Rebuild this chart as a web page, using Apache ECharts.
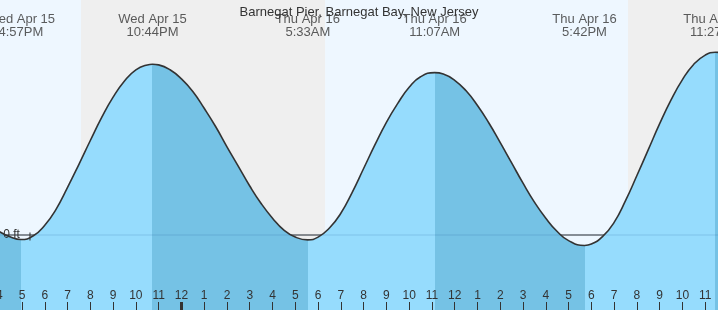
<!DOCTYPE html>
<html><head><meta charset="utf-8">
<script src="https://cdn.jsdelivr.net/npm/echarts@6/dist/echarts.min.js"></script>
<style>html,body{margin:0;padding:0;background:#fff}#c{width:718px;height:310px}</style>
</head><body><div id="c"></div>
<script>
// ---- data (hours counted from Wed Apr 15 00:00) ----
const chartTitle = 'Barnegat Pier, Barnegat Bay, New Jersey';
const tideHours = [16.0, 16.5, 16.95, 17.5, 18.0, 18.5, 19.0, 19.5, 20.0, 20.5, 21.0, 21.5, 22.0, 22.5, 22.73, 23.0, 23.5, 24.0, 24.5, 25.0, 25.5, 26.0, 26.5, 27.0, 27.5, 28.0, 28.5, 29.0, 29.55, 30.0, 30.5, 31.0, 31.5, 32.0, 32.5, 33.0, 33.5, 34.0, 34.5, 35.12, 35.5, 36.0, 36.5, 37.0, 37.5, 38.0, 38.5, 39.0, 39.5, 40.0, 40.5, 41.0, 41.7, 42.0, 42.5, 43.0, 43.5, 44.0, 44.5, 45.0, 45.5, 46.0, 46.5, 47.0, 47.45, 48.0];
const tideFt    = [0.05, -0.03, -0.065, -0.01, 0.14, 0.37, 0.68, 1.01, 1.35, 1.68, 1.97, 2.20, 2.36, 2.43, 2.44, 2.43, 2.36, 2.23, 2.05, 1.81, 1.55, 1.26, 0.98, 0.70, 0.45, 0.24, 0.07, -0.03, -0.07, -0.03, 0.10, 0.31, 0.61, 0.95, 1.29, 1.61, 1.88, 2.11, 2.26, 2.32, 2.30, 2.21, 2.06, 1.85, 1.60, 1.32, 1.03, 0.74, 0.47, 0.24, 0.05, -0.08, -0.15, -0.13, -0.02, 0.18, 0.49, 0.85, 1.22, 1.59, 1.93, 2.22, 2.44, 2.57, 2.61, 2.58];
const extremeHours  = [16.95, 22.73, 29.55, 35.12, 41.7, 47.45];
const extremeTypes  = ['low', 'high', 'low', 'high', 'low', 'high'];
const extremeLabels = ['Wed Apr 15\n4:57PM', 'Wed Apr 15\n10:44PM', 'Thu Apr 16\n5:33AM', 'Thu Apr 16\n11:07AM', 'Thu Apr 16\n5:42PM', 'Thu Apr 16\n11:27PM'];
const sunHours = [19.59, 30.31, 43.61];   // sunset, sunrise, sunset
const nowHour = 17.35;
const zeroLabel = '0 ft';
const hourTickLabels = ['12','1','2','3','4','5','6','7','8','9','10','11'];

// ---- styling ----
const X_MIN = 16, X_MAX = 48;
const Y_MIN = -75 / 70, Y_MAX = 235 / 70;
const DAY = '#eef7ff', NIGHT = '#efefef';
const RISE = '#96dcfd', FALL = '#75c2e5';
const TXT = '#333';
const FONT = 'Liberation Sans, Arial, sans-serif';

const tideData = tideHours.map((h, i) => [h, tideFt[i]]);

const pieces = [{ lt: extremeHours[0], color: extremeTypes[0] === 'low' ? FALL : RISE }];
extremeHours.forEach((h, i) => {
  const p = { gte: h, color: extremeTypes[i] === 'low' ? RISE : FALL };
  if (i + 1 < extremeHours.length) p.lt = extremeHours[i + 1];
  pieces.push(p);
});

const bounds = [X_MIN, ...sunHours, X_MAX];
const bands = [];
for (let i = 0; i < bounds.length - 1; i++) {
  bands.push([{ xAxis: bounds[i], itemStyle: { color: i % 2 === 0 ? DAY : NIGHT } }, { xAxis: bounds[i + 1] }]);
}

const chart = echarts.init(document.getElementById('c'));
chart.setOption({
  animation: false,
  textStyle: { fontFamily: FONT },
  title: {
    text: chartTitle, left: 'center', top: 1, z: 20,
    textStyle: { fontSize: 13, fontWeight: 'normal', color: TXT, fontFamily: FONT }
  },
  grid: { left: -0.77, right: -10, top: 0, bottom: 0, containLabel: false, outerBoundsMode: 'none' },
  xAxis: [{
    type: 'value', min: X_MIN, max: X_MAX, interval: 1, z: 20, position: 'bottom',
    axisLine: { show: false, onZero: false },
    splitLine: { show: false },
    axisTick: { inside: true, length: 8, lineStyle: { color: TXT, width: 1 } },
    axisLabel: {
      inside: true, margin: 8, fontSize: 12, color: TXT, fontFamily: FONT, hideOverlap: false,
      showMinLabel: true, showMaxLabel: true,
      formatter: v => hourTickLabels[Math.round(v) % 12]
    }
  }, {
    type: 'value', min: X_MIN, max: X_MAX, position: 'bottom', z: 21,
    axisLine: { show: false, onZero: false }, splitLine: { show: false },
    axisLabel: { show: false },
    axisTick: { inside: true, length: 8, customValues: [24, 48], lineStyle: { color: TXT, width: 3 } }
  }],
  yAxis: {
    type: 'value', min: Y_MIN, max: Y_MAX, z: 20,
    axisLine: { show: false, onZero: false }, axisTick: { show: false }, splitLine: { show: false },
    axisLabel: {
      inside: true, margin: 4, fontSize: 12, color: TXT, fontFamily: FONT,
      customValues: [0], formatter: () => zeroLabel
    }
  },
  visualMap: {
    type: 'piecewise', show: false, dimension: 0, seriesIndex: 1, pieces: pieces
  },
  series: [
    {
      type: 'line', z: 2, silent: true, symbol: 'none',
      data: [[X_MIN, 0], [X_MAX, 0]],
      lineStyle: { color: TXT, width: 1 },
      markArea: { silent: true, data: bands }
    },
    {
      type: 'line', z: 3, silent: true, symbol: 'none', smooth: true,
      data: tideData,
      lineStyle: { width: 0 },
      areaStyle: { opacity: 1, origin: 'start' }
    },
    {
      type: 'line', z: 4, silent: true, symbol: 'none',
      data: [[X_MIN, 0], [X_MAX, 0]],
      lineStyle: { color: 'rgba(0,60,120,0.15)', width: 1 }
    },
    {
      type: 'line', z: 5, silent: true, symbol: 'none', smooth: true,
      data: tideData,
      lineStyle: { color: TXT, width: 1.6 }
    },
    {
      type: 'scatter', z: 6, silent: true,
      data: [[nowHour, 0]], symbol: 'rect', symbolSize: [1.3, 8], symbolOffset: [0, 1.5],
      itemStyle: { color: TXT }
    },
    {
      type: 'scatter', z: 7, silent: true, clip: false,
      data: extremeHours.map(h => [h, Y_MAX]),
      symbolSize: 1, itemStyle: { color: 'transparent' },
      label: {
        show: true, position: 'bottom', distance: 13,
        fontSize: 13, lineHeight: 12.5, color: TXT, fontFamily: FONT, align: 'center',
        formatter: p => extremeLabels[p.dataIndex]
      }
    }
  ]
});
</script></body></html>
